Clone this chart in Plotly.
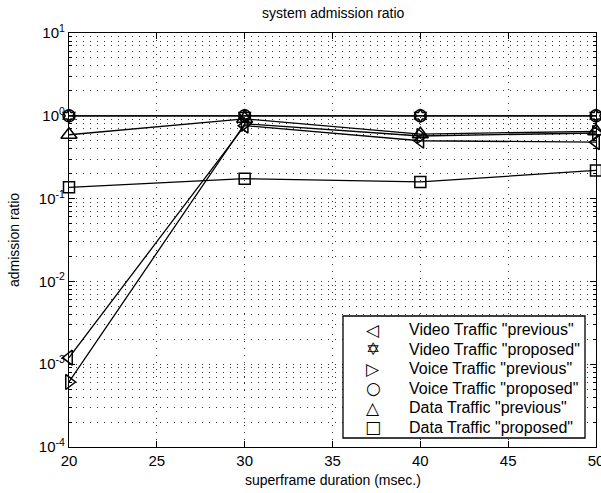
import plotly.graph_objects as go

durations = [20, 30, 40, 50]
video_previous = [1.2e-3, 0.76, 0.50, 0.48]
video_proposed = [1.0, 1.0, 1.0, 1.0]
voice_previous = [6.1e-4, 0.80, 0.57, 0.62]
voice_proposed = [1.0, 1.0, 1.0, 1.0]
data_previous = [0.59, 0.92, 0.60, 0.65]
data_proposed = [0.137, 0.174, 0.159, 0.219]

y_tick_vals = [1e-4, 1e-3, 1e-2, 1e-1, 1, 10]
y_tick_text = ["10<sup>-4</sup>", "10<sup>-3</sup>", "10<sup>-2</sup>",
               "10<sup>-1</sup>", "10<sup>0</sup>", "10<sup>1</sup>"]

series_names = ['Video Traffic "previous"', 'Video Traffic "proposed"',
                'Voice Traffic "previous"', 'Voice Traffic "proposed"',
                'Data Traffic "previous"', 'Data Traffic "proposed"']
series_values = [video_previous, video_proposed, voice_previous,
                 voice_proposed, data_previous, data_proposed]
symbols = ["triangle-left-open", "hexagram-open", "triangle-right-open",
           "circle-open", "triangle-up-open", "square-open"]
symbol_sizes = [13, 10, 13, 12, 14, 11]
legend_glyphs = ["\u25C1", "\u2721", "\u25B7", "\u25CB", "\u25B3", "\u25A1"]

fig = go.Figure()
for name, vals, sym, sz in zip(series_names, series_values, symbols, symbol_sizes):
    fig.add_trace(go.Scatter(
        x=durations, y=vals, mode="lines+markers", name=name, showlegend=False,
        line=dict(color="black", width=1.3),
        marker=dict(symbol=sym, size=sz, color="black", line=dict(width=1.5, color="black")),
        cliponaxis=False,
    ))

font = "Liberation Sans, Arial, Helvetica, sans-serif"
grid_dash = "1px,6px"
grid_col = "#333"

PL, PR, PT, PB = 69, 596, 33, 447  # plot area in page pixels


def px_to_paper_x(px):
    return (px - PL) / float(PR - PL)


def px_to_paper_y(py):
    return (PB - py) / float(PB - PT)


shapes = [dict(type="rect", xref="paper", yref="paper",
               x0=px_to_paper_x(343), x1=px_to_paper_x(585),
               y0=px_to_paper_y(438), y1=px_to_paper_y(316),
               line=dict(color="black", width=1.3), fillcolor="white", layer="above")]
annotations = []
for i, (name, glyph) in enumerate(zip(series_names, legend_glyphs)):
    py = 329.5 + 19.5 * i
    annotations.append(dict(xref="paper", yref="paper", x=px_to_paper_x(373), y=px_to_paper_y(py),
                            text=glyph, showarrow=False, xanchor="center", yanchor="middle",
                            font=dict(family="DejaVu Sans", size=17, color="black")))
    annotations.append(dict(xref="paper", yref="paper", x=px_to_paper_x(407), y=px_to_paper_y(py),
                            text=name, showarrow=False, xanchor="left", yanchor="middle",
                            font=dict(family=font, size=16, color="black")))
annotations.append(dict(xref="paper", yref="paper", x=px_to_paper_x(14), y=0.5,
                        text="admission ratio", textangle=-90, showarrow=False,
                        xanchor="center", yanchor="middle", font=dict(size=14)))
annotations.append(dict(xref="paper", yref="paper", x=px_to_paper_x(333), y=px_to_paper_y(480),
                        text="superframe duration (msec.)", showarrow=False,
                        xanchor="center", yanchor="middle", font=dict(size=14)))
annotations.append(dict(xref="paper", yref="paper", x=px_to_paper_x(333), y=px_to_paper_y(13),
                        text="system admission ratio", showarrow=False,
                        xanchor="center", yanchor="middle", font=dict(size=14)))

fig.update_layout(
    width=601, height=493,
    margin=dict(l=PL, r=601 - PR, t=PT, b=493 - PB, autoexpand=False),
    paper_bgcolor="white", plot_bgcolor="white",
    font=dict(family=font, color="black", size=14),
    showlegend=False,
    shapes=shapes, annotations=annotations,
)
fig.update_xaxes(
    range=[20, 50], dtick=5, tick0=20, showline=True, linecolor="black", linewidth=1.3,
    mirror="ticks", ticks="inside", ticklen=6, tickcolor="black",
    showgrid=True, gridcolor=grid_col, griddash=grid_dash, gridwidth=1,
    zeroline=False, tickfont=dict(size=15), automargin=False, ticklabeloverflow="allow",
)
fig.update_yaxes(
    type="log", range=[-4, 1], tickvals=y_tick_vals, ticktext=y_tick_text,
    showline=True, linecolor="black", linewidth=1.3,
    mirror="ticks", ticks="inside", ticklen=6, tickcolor="black",
    showgrid=True, gridcolor=grid_col, griddash=grid_dash, gridwidth=1,
    minor=dict(showgrid=True, gridcolor=grid_col, griddash=grid_dash, ticks="inside", ticklen=3,
               tickcolor="black", dtick="D1"),
    zeroline=False, tickfont=dict(size=15), automargin=False, ticklabeloverflow="allow",
)
fig.write_html(
    "out.html",
    config={"displayModeBar": False},
    post_script="document.body.style.margin='0';document.body.style.overflow='hidden';",
)
